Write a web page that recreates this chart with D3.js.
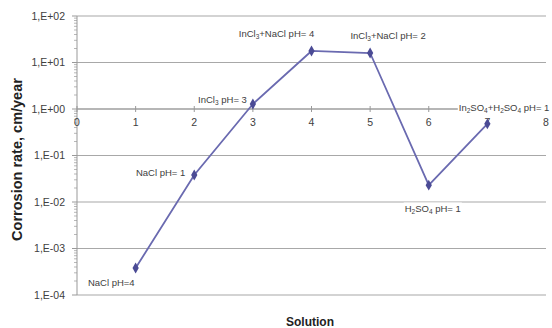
<!DOCTYPE html>
<html lang="en">
  <head>
    <meta charset="UTF-8" />
    <title>Corrosion rate by solution</title>
    <style>
      html, body { margin: 0; padding: 0; background: #fff; }
      svg { display: block; font-family: "Liberation Sans", Arial, sans-serif; }
    </style>
    <script src="https://cdn.jsdelivr.net/npm/d3@7/dist/d3.min.js"></script>
  </head>
  <body>
    <script>
      const solutions = [1, 2, 3, 4, 5, 6, 7];
      const rates = [3.8e-4, 0.038, 1.28, 17.7, 16, 0.023, 0.48];
      // label parts: [text, isSubscript]
      const pointLabels = [
        [["NaCl pH=4", false]],
        [["NaCl pH= 1", false]],
        [["InCl", false], ["3", true], [" pH= 3", false]],
        [["InCl", false], ["3", true], ["+NaCl pH= 4", false]],
        [["InCl", false], ["3", true], ["+NaCl pH= 2", false]],
        [["H", false], ["2", true], ["SO", false], ["4", true], [" pH= 1", false]],
        [["In", false], ["2", true], ["SO", false], ["4", true], ["+H", false], ["2", true], ["SO", false], ["4", true], [" pH= 1", false]],
      ];
      const xTicks = [0, 1, 2, 3, 4, 5, 6, 7, 8];
      const yTicks = [1e-4, 1e-3, 1e-2, 1e-1, 1, 1e1, 1e2];
      const yTickLabels = ["1,E-04", "1,E-03", "1,E-02", "1,E-01", "1,E+00", "1,E+01", "1,E+02"];

      const width = 552, height = 328;
      const svg = d3.select(document.body).append("svg")
        .attr("width", width).attr("height", height);
      svg.append("rect").attr("width", width).attr("height", height).attr("fill", "#fff");

      const x = d3.scaleLinear().domain([0, 8]).range([77, 546]);
      const y = d3.scaleLog().domain([1e-4, 1e2]).range([295, 16]);

      // horizontal gridlines
      svg.append("g")
        .selectAll("line")
        .data(yTicks)
        .join("line")
        .attr("x1", x(0)).attr("x2", x(8))
        .attr("y1", (d) => y(d)).attr("y2", (d) => y(d))
        .attr("stroke", "#a8a8a8").attr("stroke-width", 1.2);

      // y axis with minor ticks
      const minor = [];
      for (let e = -4; e < 2; e++) for (let m = 2; m < 10; m++) minor.push(m * Math.pow(10, e));
      const yAx = svg.append("g").attr("stroke", "#999");
      yAx.append("line").attr("x1", x(0)).attr("x2", x(0)).attr("y1", y(1e-4)).attr("y2", y(1e2));
      yAx.selectAll("line.minor").data(minor).join("line").attr("class", "minor")
        .attr("x1", x(0) - 3).attr("x2", x(0))
        .attr("y1", (d) => y(d)).attr("y2", (d) => y(d)).attr("stroke-width", 0.7);
      yAx.selectAll("line.major").data(yTicks).join("line").attr("class", "major")
        .attr("x1", x(0) - 5).attr("x2", x(0))
        .attr("y1", (d) => y(d)).attr("y2", (d) => y(d));

      svg.append("g")
        .selectAll("text")
        .data(yTicks)
        .join("text")
        .attr("x", 65).attr("y", (d) => y(d)).attr("dy", "0.35em")
        .attr("text-anchor", "end").attr("font-size", 10.5).attr("fill", "#404040")
        .text((d, i) => yTickLabels[i]);

      // x axis crossing at 1
      const xAx = svg.append("g").attr("stroke", "#999");
      xAx.append("line").attr("x1", x(0)).attr("x2", x(8)).attr("y1", y(1)).attr("y2", y(1)).attr("stroke-width", 1.2);
      xAx.selectAll("line.t").data(xTicks).join("line").attr("class", "t")
        .attr("x1", (d) => x(d)).attr("x2", (d) => x(d))
        .attr("y1", y(1) - 3).attr("y2", y(1) + 3);
      svg.append("g")
        .selectAll("text")
        .data(xTicks)
        .join("text")
        .attr("x", (d) => x(d)).attr("y", y(1) + 13).attr("dy", "0.35em")
        .attr("text-anchor", "middle").attr("font-size", 10.5).attr("fill", "#404040")
        .text((d) => d);

      // series line
      const pts = solutions.map((s, i) => [s, rates[i]]);
      svg.append("path")
        .attr("d", d3.line().x((d) => x(d[0])).y((d) => y(d[1]))(pts))
        .attr("fill", "none").attr("stroke", "#6a6ab0").attr("stroke-width", 1.8);
      svg.append("g")
        .selectAll("path")
        .data(pts)
        .join("path")
        .attr("transform", (d) => `translate(${x(d[0])},${y(d[1])})`)
        .attr("d", d3.symbol(d3.symbolDiamond, 34))
        .attr("fill", "#4b4b95");

      // point labels (layout offsets from each point)
      const labelLayout = [
        { dx: -1, dy: 15, anchor: "end" },
        { dx: -9, dy: -2, anchor: "end" },
        { dx: -6, dy: -4, anchor: "end" },
        { dx: -35, dy: -17, anchor: "middle" },
        { dx: 18, dy: -17, anchor: "middle" },
        { dx: 4, dy: 23, anchor: "middle" },
        { dx: 62, dy: -16, anchor: "end" },
      ];
      const lbl = svg.append("g").attr("font-size", 9.5).attr("fill", "#404040");
      pts.forEach((d, i) => {
        const L = labelLayout[i];
        const g = lbl.append("g");
        const bg = g.append("rect").attr("fill", "#fff");
        const t = g.append("text")
          .attr("x", x(d[0]) + L.dx).attr("y", y(d[1]) + L.dy).attr("dy", "0.35em")
          .attr("text-anchor", L.anchor);
        pointLabels[i].forEach(([s, sub]) => {
          const ts = t.append("tspan").text(s);
          if (sub) ts.attr("font-size", 6.5).attr("baseline-shift", "-25%");
        });
        const b = t.node().getBBox();
        bg.attr("x", b.x - 1).attr("y", b.y).attr("width", b.width + 2).attr("height", b.height);
      });

      // axis titles
      svg.append("text")
        .attr("transform", `translate(17,${(y(1e-4) + y(1e2)) / 2 + 4}) rotate(-90)`)
        .attr("dy", "0.35em").attr("text-anchor", "middle")
        .attr("font-size", 14.5).attr("font-weight", "bold").attr("fill", "#222")
        .text("Corrosion rate, cm/year");
      svg.append("text")
        .attr("x", 310).attr("y", 322).attr("dy", "0.35em").attr("text-anchor", "middle")
        .attr("font-size", 12).attr("font-weight", "bold").attr("fill", "#222")
        .text("Solution");
    </script>
  </body>
</html>
